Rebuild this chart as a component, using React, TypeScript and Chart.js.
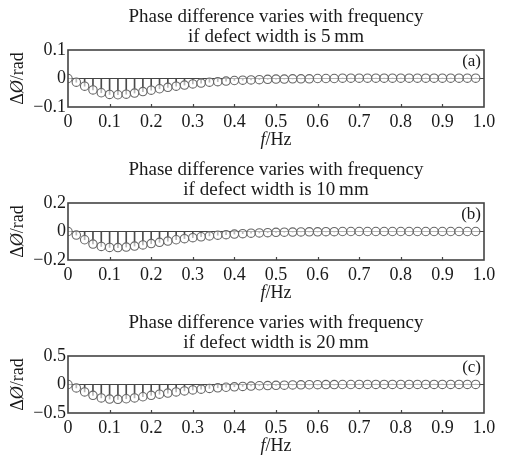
import React, { useEffect, useRef } from "react";
import { Chart, registerables } from "chart.js";

Chart.register(...registerables);

const freq = [
  0, 0.02, 0.04, 0.06, 0.08, 0.1, 0.12, 0.14, 0.16, 0.18,
  0.2, 0.22, 0.24, 0.26, 0.28, 0.3, 0.32, 0.34, 0.36, 0.38,
  0.4, 0.42, 0.44, 0.46, 0.48, 0.5, 0.52, 0.54, 0.56, 0.58,
  0.6, 0.62, 0.64, 0.66, 0.68, 0.7, 0.72, 0.74, 0.76, 0.78,
  0.8, 0.82, 0.84, 0.86, 0.88, 0.9, 0.92, 0.94, 0.96, 0.98,
];

const phase5mm = [
  0, -0.013, -0.027, -0.04, -0.05, -0.056, -0.057, -0.055, -0.051, -0.046,
  -0.041, -0.036, -0.031, -0.027, -0.023, -0.019, -0.016, -0.013, -0.011, -0.009,
  -0.007, -0.006, -0.005, -0.004, -0.003, -0.002, -0.002, -0.001, -0.001, -0.001,
  0, 0, 0, 0.001, 0.001, 0.001, 0.001, 0.001, 0.001, 0.001,
  0.001, 0.001, 0.001, 0.001, 0.001, 0.001, 0.001, 0.001, 0.001, 0.001,
];

const phase10mm = [
  0, -0.025, -0.058, -0.088, -0.105, -0.112, -0.113, -0.109, -0.102, -0.094,
  -0.085, -0.076, -0.067, -0.058, -0.05, -0.043, -0.037, -0.031, -0.026, -0.022,
  -0.018, -0.015, -0.012, -0.01, -0.008, -0.006, -0.005, -0.004, -0.003, -0.002,
  -0.002, -0.001, -0.001, 0, 0, 0, 0, 0, 0, 0,
  0, 0, 0, 0, 0, 0, 0, 0, 0, 0,
];

const phase20mm = [
  0, -0.06, -0.13, -0.19, -0.235, -0.255, -0.26, -0.25, -0.235, -0.215,
  -0.19, -0.17, -0.15, -0.13, -0.112, -0.096, -0.082, -0.069, -0.058, -0.048,
  -0.04, -0.033, -0.027, -0.022, -0.018, -0.014, -0.011, -0.008, -0.006, -0.004,
  -0.003, -0.002, -0.001, 0, 0, 0.001, 0.001, 0.001, 0.001, 0.001,
  0.001, 0.001, 0.001, 0.001, 0.001, 0.001, 0.001, 0.001, 0.001, 0.001,
];

const xTickValues = [0, 0.1, 0.2, 0.3, 0.4, 0.5, 0.6, 0.7, 0.8, 0.9, 1.0];
const xTickLabels = ["0", "0.1", "0.2", "0.3", "0.4", "0.5", "0.6", "0.7", "0.8", "0.9", "1.0"];

const yTicks5mm = [-0.1, 0, 0.1];
const yTicks10mm = [-0.2, 0, 0.2];
const yTicks20mm = [-0.5, 0, 0.5];

const titleLine1 = "Phase difference varies with frequency";
const titleLine2 = [
  "if defect width is 5\u2009mm",
  "if defect width is 10\u2009mm",
  "if defect width is 20\u2009mm",
];
const panelTags = ["(a)", "(b)", "(c)"];

const FONT = '"Liberation Serif", "Times New Roman", serif';
const TEXT = "#1a1a1a";

function fmtY(v: number) {
  if (Math.abs(v) < 1e-9) return "0";
  const s = Math.abs(v).toFixed(1);
  return v < 0 ? "\u2212" + s : s;
}

function Panel({ values, yTicks, idx }: { values: number[]; yTicks: number[]; idx: number }) {
  const ref = useRef<HTMLCanvasElement | null>(null);
  useEffect(() => {
    if (!ref.current) return;
    const pts = freq.map((f, i) => ({ x: f, y: values[i] }));
    const decor = {
      id: "decor",
      afterDraw(chart: any) {
        const { ctx } = chart;
        const { left, right, top, bottom } = chart.chartArea;
        ctx.save();
        ctx.strokeStyle = "#444";
        ctx.lineWidth = 1.6;
        ctx.strokeRect(left, top, right - left, bottom - top);
        const xs = chart.scales.x;
        ctx.lineWidth = 1.2;
        xTickValues.forEach((v) => {
          if (v <= 0 || v >= 1) return;
          const px = Math.round(xs.getPixelForValue(v)) + 0.5;
          ctx.beginPath();
          ctx.moveTo(px, bottom);
          ctx.lineTo(px, bottom - 3);
          ctx.stroke();
        });
        const cx = (left + right) / 2;
        ctx.fillStyle = TEXT;
        ctx.textBaseline = "alphabetic";
        ctx.textAlign = "center";
        ctx.font = "19px " + FONT;
        ctx.fillText(titleLine1, cx, top - 28);
        ctx.fillText(titleLine2[idx], cx, top - 8);
        ctx.textAlign = "right";
        ctx.font = "17px " + FONT;
        ctx.fillText(panelTags[idx], right - 3, top + 16);
        ctx.textAlign = "left";
        ctx.font = "italic 18px " + FONT;
        const wf = ctx.measureText("f").width;
        ctx.font = "18px " + FONT;
        const wr = ctx.measureText("/Hz").width;
        const x0 = cx - (wf + wr) / 2;
        ctx.font = "italic 18px " + FONT;
        ctx.fillText("f", x0, bottom + 38);
        ctx.font = "18px " + FONT;
        ctx.fillText("/Hz", x0 + wf, bottom + 38);
        ctx.translate(23, (top + bottom) / 2);
        ctx.rotate(-Math.PI / 2);
        ctx.font = "18px " + FONT;
        const w1 = ctx.measureText("\u0394").width;
        ctx.font = "italic 18px " + FONT;
        const w2 = ctx.measureText("\u00D8").width;
        ctx.font = "18px " + FONT;
        const w3 = ctx.measureText("/rad").width;
        const sx = -(w1 + w2 + w3) / 2;
        ctx.fillText("\u0394", sx, 0);
        ctx.font = "italic 18px " + FONT;
        ctx.fillText("\u00D8", sx + w1, 0);
        ctx.font = "18px " + FONT;
        ctx.fillText("/rad", sx + w1 + w2, 0);
        ctx.restore();
      },
    };
    const chart = new Chart(ref.current, {
      type: "bar",
      data: {
        datasets: [
          {
            type: "bar",
            data: pts as any,
            backgroundColor: "#4a4a4a",
            borderWidth: 0,
            barThickness: 1,
            order: 2,
          } as any,
          {
            type: "scatter",
            data: pts as any,
            pointStyle: "circle",
            pointRadius: 4.2,
            pointBorderColor: "#666",
            pointBackgroundColor: "rgba(255,255,255,0.6)",
            pointBorderWidth: 1.1,
            showLine: false,
            order: 1,
          } as any,
        ],
      },
      options: {
        animation: false,
        responsive: false,
        layout: { padding: { top: 50, right: 21, left: 0, bottom: 0 } },
        plugins: { legend: { display: false }, tooltip: { enabled: false }, title: { display: false } },
        scales: {
          x: {
            type: "linear",
            min: 0,
            max: 1,
            offset: false,
            grid: { display: false, drawTicks: false },
            border: { display: false },
            afterBuildTicks: (s: any) => {
              s.ticks = xTickValues.map((v) => ({ value: v }));
            },
            afterFit: (s: any) => {
              s.height = 46;
            },
            ticks: {
              autoSkip: false,
              maxRotation: 0,
              minRotation: 0,
              padding: 4,
              color: TEXT,
              font: { family: FONT, size: 18 },
              callback: (_v: any, i: number) => xTickLabels[i],
            },
          },
          y: {
            min: yTicks[0],
            max: yTicks[yTicks.length - 1],
            grid: {
              drawTicks: false,
              lineWidth: 1,
              color: (c: any) => (c.tick && Math.abs(c.tick.value) < 1e-9 ? "#444" : "rgba(0,0,0,0)"),
            },
            border: { display: false },
            afterBuildTicks: (s: any) => {
              s.ticks = yTicks.map((v) => ({ value: v }));
            },
            afterFit: (s: any) => {
              s.width = 68;
            },
            ticks: {
              padding: 2,
              color: TEXT,
              font: { family: FONT, size: 18 },
              callback: (v: any) => fmtY(Number(v)),
            },
          },
        },
      } as any,
      plugins: [decor],
    });
    return () => chart.destroy();
  }, [values, yTicks, idx]);
  return <canvas ref={ref} width={505} height={153} style={{ display: "block", width: 505, height: 153 }} />;
}

export default function App() {
  return (
    <div style={{ position: "absolute", left: 0, top: 0, width: 505, height: 459, background: "#fff" }}>
      <Panel values={phase5mm} yTicks={yTicks5mm} idx={0} />
      <Panel values={phase10mm} yTicks={yTicks10mm} idx={1} />
      <Panel values={phase20mm} yTicks={yTicks20mm} idx={2} />
    </div>
  );
}
